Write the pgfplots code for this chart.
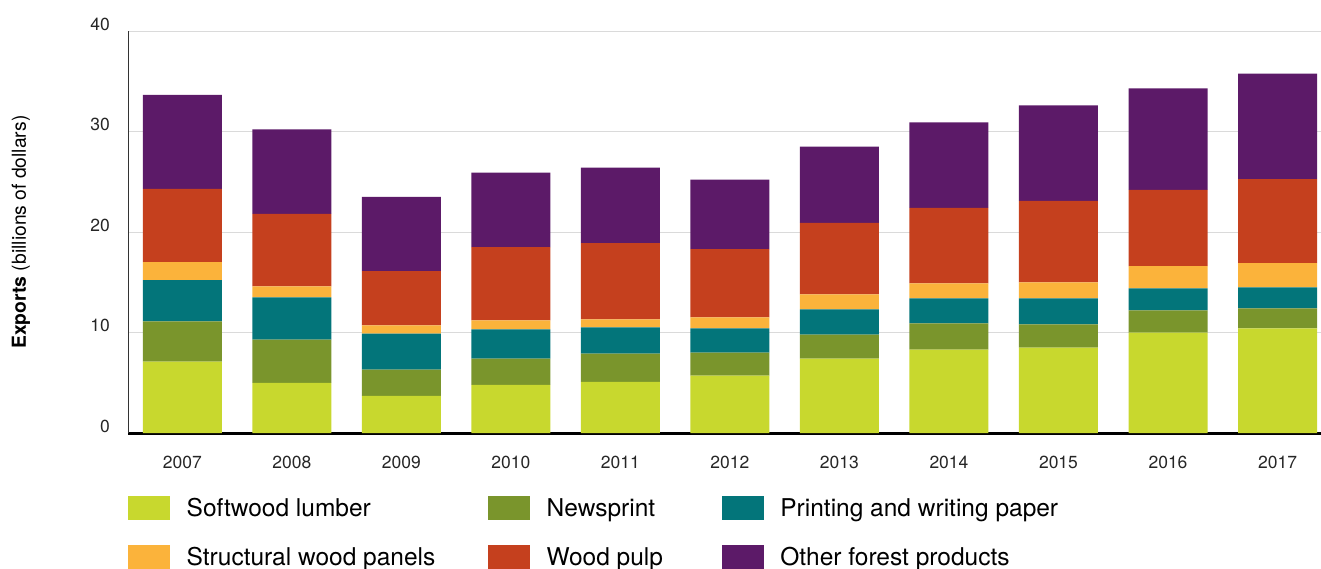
\documentclass[border=0pt]{standalone}
\usepackage{pgfplots}
\usepackage{pgfplotstable}
\pgfplotsset{compat=1.18}
\usepackage{fontspec}
\setmainfont{TeX Gyre Heros}
\definecolor{clumber}{HTML}{C8D82E}
\definecolor{cnews}{HTML}{7A952C}
\definecolor{cprint}{HTML}{03757A}
\definecolor{cpanel}{HTML}{FBB33B}
\definecolor{cpulp}{HTML}{C5401E}
\definecolor{cother}{HTML}{5C1A68}
\definecolor{cgrid}{HTML}{DADADA}
\pgfplotstableread{
x lumber news print panels pulp other
0 7.1 4.0 4.1 1.8 7.3 9.35
1 5.0 4.3 4.2 1.1 7.2 8.4
2 3.7 2.6 3.6 0.8 5.4 7.4
3 4.8 2.6 2.9 0.9 7.3 7.4
4 5.1 2.8 2.6 0.8 7.6 7.5
5 5.7 2.3 2.4 1.1 6.8 6.9
6 7.4 2.4 2.5 1.5 7.1 7.6
7 8.3 2.6 2.5 1.5 7.5 8.5
8 8.5 2.3 2.6 1.6 8.1 9.5
9 10.0 2.2 2.2 2.2 7.6 10.1
10 10.4 2.0 2.1 2.4 8.35 10.5
}\datatable
\begin{document}
\begin{tikzpicture}
\useasboundingbox (0,0) rectangle (1321bp,-569bp);
\begin{axis}[
  at={(128bp,-433bp)}, anchor=south west,
  scale only axis, width=1193bp, height=402bp,
  ybar stacked, bar width=79bp,
  xmin=-0.496, xmax=10.397, ymin=0, ymax=40,
  xtick=data,
  xticklabels={2007,2008,2009,2010,2011,2012,2013,2014,2015,2016,2017},
  ytick={0,10,20,30,40},
  yticklabels={0,10,20,30,40},
  major tick length=0pt,
  axis x line*=bottom, axis y line*=left,
  axis line style={-},
  x axis line style={line width=3bp, black},
  y axis line style={line width=0.8bp, black!80},
  ymajorgrids, grid style={line width=1bp, cgrid},
  xticklabel style={font=\fontsize{17.5bp}{20bp}\selectfont, text=black!85, anchor=north, inner sep=0pt, yshift=-23bp},
  yticklabel style={font=\fontsize{17.5bp}{20bp}\selectfont, text=black!85, anchor=east, inner sep=0pt, xshift=-18bp, yshift=7bp},
  ylabel={\textbf{Exports} (billions of dollars)},
  ylabel style={font=\fontsize{19.3bp}{22bp}\selectfont, at={(axis description cs:-0.0897,0.5)}, anchor=center},
  legend columns=3,
  legend cell align=left,
  legend image code/.code={\fill[#1] (0bp,-9.6bp) rectangle (42bp,14.4bp);},
  legend style={draw=none, fill=none, inner sep=0pt, outer sep=0pt,
    at={(axis description cs:0,-0.1567)}, anchor=north west,
    column sep=16.7bp, row sep=23.6bp,
    font=\fontsize{24.5bp}{27bp}\selectfont,
    nodes={inner sep=0pt, text height=17bp, text depth=5bp}},
]
\addplot[fill=clumber, draw=none] table[x=x, y=lumber] {\datatable};
\addplot[fill=cnews, draw=none] table[x=x, y=news] {\datatable};
\addplot[fill=cprint, draw=none] table[x=x, y=print] {\datatable};
\addplot[fill=cpanel, draw=none] table[x=x, y=panels] {\datatable};
\addplot[fill=cpulp, draw=none] table[x=x, y=pulp] {\datatable};
\addplot[fill=cother, draw=none] table[x=x, y=other] {\datatable};
\legend{\makebox[284.6bp][l]{Softwood lumber}, \makebox[158.3bp][l]{Newsprint}, Printing and writing paper,
        \makebox[284.6bp][l]{Structural wood panels}, \makebox[158.3bp][l]{Wood pulp}, Other forest products}
\end{axis}
\end{tikzpicture}
\end{document}
